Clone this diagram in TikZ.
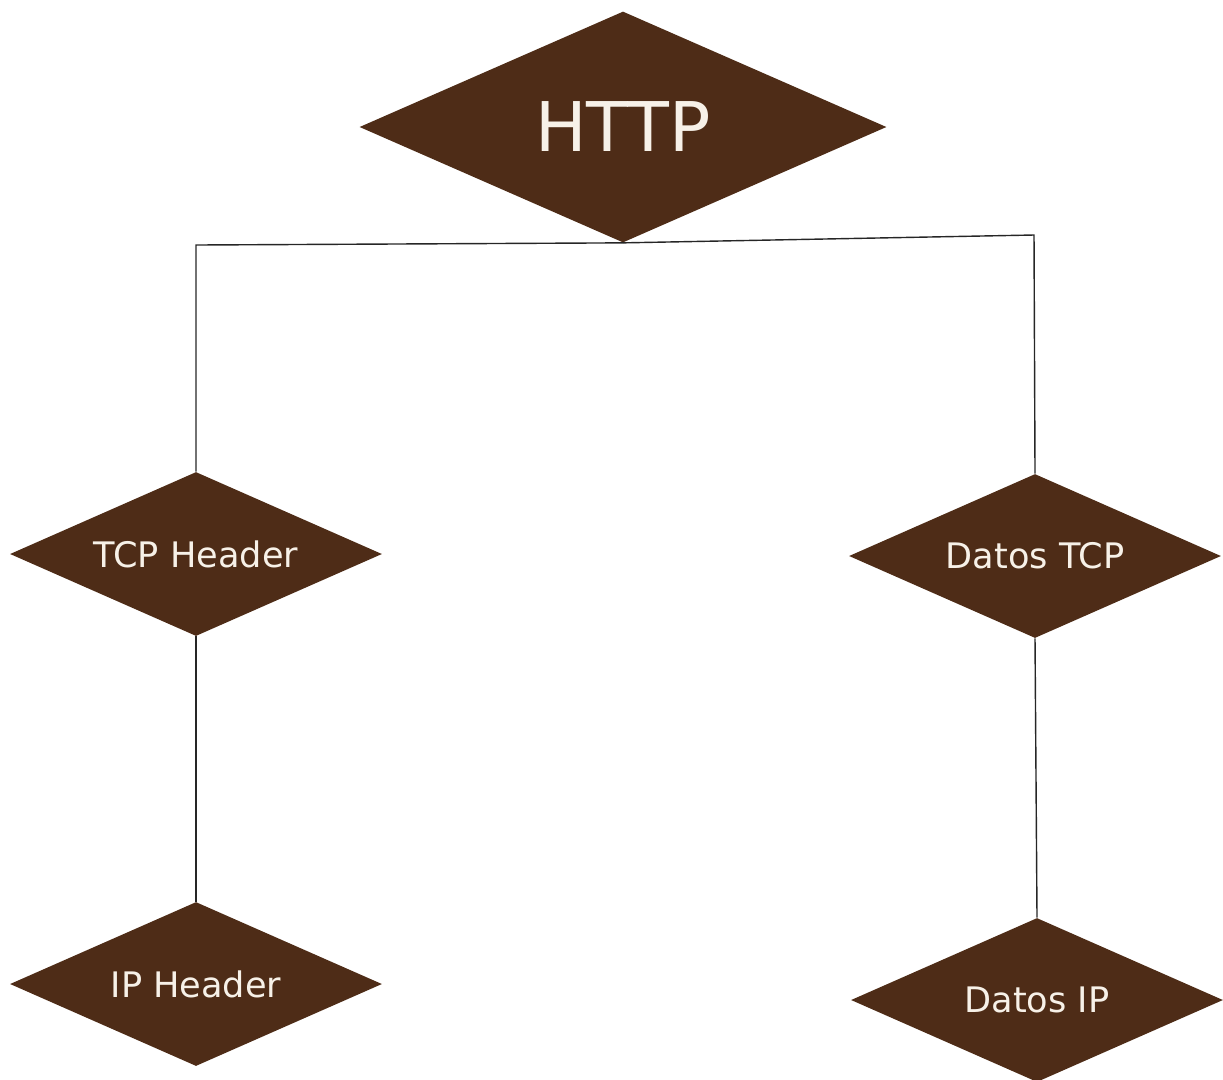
\documentclass[tikz,border=0pt]{standalone}
\usepackage{fontspec}
\setmainfont{DejaVu Sans}
\usepackage{tikz}
\usetikzlibrary{shapes.geometric}
\definecolor{layerbrown}{HTML}{4E2C17}
\definecolor{layertext}{HTML}{F7F1E8}

\begin{document}
\begin{tikzpicture}[
		layer/.style={diamond,shape aspect=2.27,fill=layerbrown,text=layertext,inner sep=0pt,
			minimum width=7.44cm,minimum height=3.28cm,font=\fontsize{20}{24}\selectfont},
		link/.style={draw=black!85,line width=0.8pt}]
		\useasboundingbox (0,0) rectangle (24.46,-21.58);
		\node [layer,minimum width=10.54cm,minimum height=4.62cm,font=\fontsize{39}{44}\selectfont] (http) at (12.46,-2.54) {HTTP};
		\node [layer] (tcphdr) at (3.92,-11.08) {TCP Header};
		\node [layer] (tcpdata) at (20.70,-11.12) {Datos TCP};
		\node [layer] (iphdr) at (3.92,-19.68) {IP Header};
		\node [layer] (ipdata) at (20.74,-20.00) {Datos IP};
		\coordinate (leftbend) at (3.92,-4.90);
		\coordinate (rightbend) at (20.68,-4.70);
		\draw[link] (http.south) -- (leftbend) -- (tcphdr.north);
		\draw[link] (http.south) -- (rightbend) -- (tcpdata.north);
		\draw[link] (tcphdr.south) -- (iphdr.north);
		\draw[link] (tcpdata.south) -- (ipdata.north);
	\end{tikzpicture}
\end{document}
